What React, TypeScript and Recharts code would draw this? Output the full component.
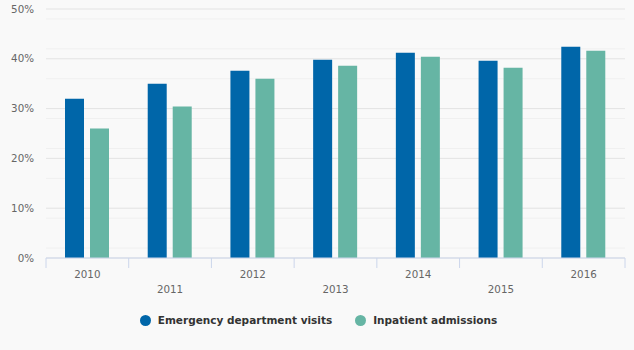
import { BarChart, Bar, XAxis, YAxis, CartesianGrid, Legend } from 'recharts'

const years = ['2010', '2011', '2012', '2013', '2014', '2015', '2016']
const edVisits = [32.0, 35.0, 37.6, 39.8, 41.2, 39.6, 42.4]
const inpatient = [26.0, 30.4, 36.0, 38.6, 40.4, 38.2, 41.6]
const majorTicks = [0, 10, 20, 30, 40, 50]
const minorTicks = [2, 4, 6, 8, 12, 14, 16, 18, 22, 24, 26, 28, 32, 34, 36, 38, 42, 44, 46, 48]

const BLUE = '#0066a9'
const GREEN = '#66b5a4'
const FONT = '"DejaVu Sans", Verdana, sans-serif'

const W = 634
const H = 350
const M = { top: 9, right: 9, bottom: 30, left: 0 }
const Y_WIDTH = 46
const band = (W - M.left - M.right - Y_WIDTH) / years.length

const data = years.map((year, i) => ({ year, ed: edVisits[i], inp: inpatient[i] }))

// Highcharts-style: tick marks between categories, odd labels on a second row
function StaggerTick(props: any) {
  const { x, y, payload, index } = props
  const row = index % 2 === 1 ? 15 : 0
  const axisY = y - 13
  return (
    <g>
      <line x1={x - band / 2} x2={x - band / 2} y1={axisY} y2={axisY + 10} stroke="#ccd6eb" />
      {index === years.length - 1 && (
        <line x1={x + band / 2} x2={x + band / 2} y1={axisY} y2={axisY + 10} stroke="#ccd6eb" />
      )}
      <text x={x} y={y + row} dy="0.71em" textAnchor="middle" fill="#666" fontSize={10.3} fontFamily={FONT}>
        {payload.value}
      </text>
    </g>
  )
}

function LegendContent() {
  const items = [
    { label: 'Emergency department visits', color: BLUE },
    { label: 'Inpatient admissions', color: GREEN }
  ]
  return (
    <div style={{ display: 'flex', justifyContent: 'center', gap: 23, height: 14, paddingLeft: 12, fontFamily: FONT, fontSize: 10.5, fontWeight: 'bold', color: '#333' }}>
      {items.map(it => (
        <div key={it.label} style={{ display: 'flex', alignItems: 'center', gap: 7 }}>
          <span style={{ width: 11, height: 11, borderRadius: 6, background: it.color, display: 'inline-block' }} />
          <span>{it.label}</span>
        </div>
      ))}
    </div>
  )
}

export default function App() {
  return (
    <div style={{ position: 'fixed', left: 0, top: 0, width: W, height: H, background: '#f9f9f9' }}>
      <BarChart width={W} height={H} data={data} margin={M} barGap={6} barSize={19}>
        <CartesianGrid horizontal vertical={false} stroke="#f0f0f0" horizontalValues={minorTicks} />
        <CartesianGrid horizontal vertical={false} stroke="#e3e3e3" horizontalValues={majorTicks} />
        <XAxis
          dataKey="year"
          stroke="#ccd6eb"
          tickLine={false}
          tickSize={10}
          tickMargin={3}
          tick={<StaggerTick />}
          interval={0}
          height={48}
        />
        <YAxis
          domain={[0, 50]}
          ticks={majorTicks}
          width={Y_WIDTH}
          axisLine={false}
          tickLine={false}
          tickFormatter={(v: number) => `${v}%`}
          tick={{ fill: '#666', fontSize: 10.3, fontFamily: FONT }}
          tickMargin={6}
        />
        <Legend verticalAlign="bottom" height={14} content={<LegendContent />} wrapperStyle={{ bottom: 23 }} />
        <Bar dataKey="ed" name="Emergency department visits" fill={BLUE} isAnimationActive={false} />
        <Bar dataKey="inp" name="Inpatient admissions" fill={GREEN} isAnimationActive={false} />
      </BarChart>
    </div>
  )
}
